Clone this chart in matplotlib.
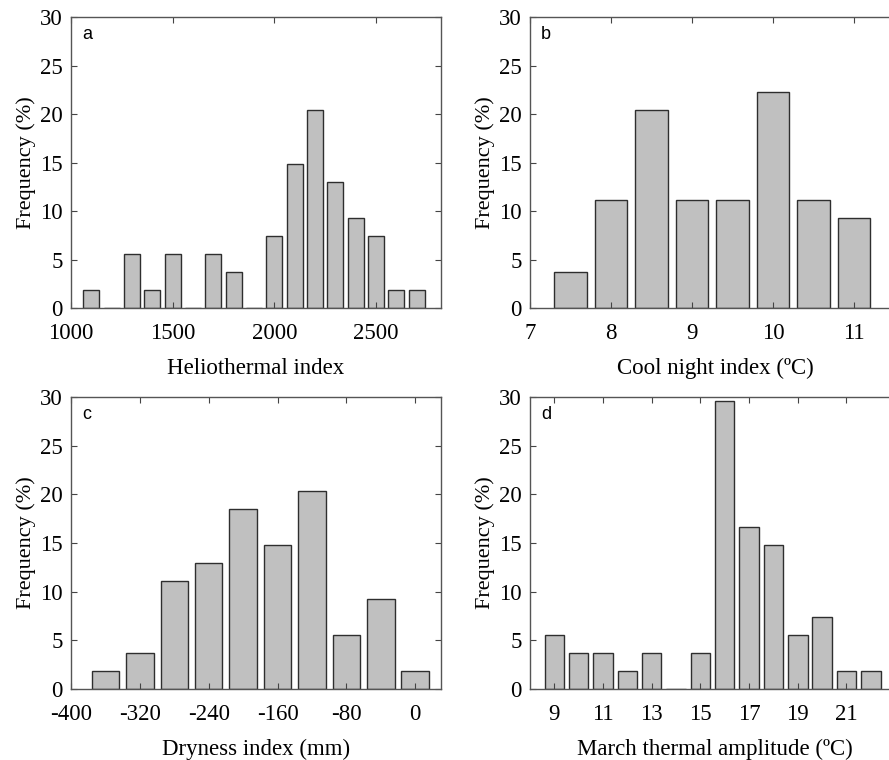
import matplotlib
matplotlib.use("Agg")
import matplotlib.pyplot as plt

plt.rcParams['font.family'] = ['Liberation Serif', 'DejaVu Serif']
plt.rcParams['axes.unicode_minus'] = False

# bin centres and frequencies (%)
helio_bins = [1100, 1200, 1300, 1400, 1500, 1600, 1700, 1800, 1900,
              2000, 2100, 2200, 2300, 2400, 2500, 2600, 2700]
helio_freq = [1.85, 0, 5.56, 1.85, 5.56, 0, 5.56, 3.70, 0,
              7.41, 14.81, 20.37, 12.96, 9.26, 7.41, 1.85, 1.85]

cool_bins = [7.5, 8.0, 8.5, 9.0, 9.5, 10.0, 10.5, 11.0]
cool_freq = [3.70, 11.11, 20.37, 11.11, 11.11, 22.22, 11.11, 9.26]

dry_bins = [-360, -320, -280, -240, -200, -160, -120, -80, -40, 0]
dry_freq = [1.85, 3.70, 11.11, 12.96, 18.52, 14.81, 20.37, 5.56, 9.26, 1.85]

march_bins = [9, 10, 11, 12, 13, 14, 15, 16, 17, 18, 19, 20, 21, 22]
march_freq = [5.56, 3.70, 3.70, 1.85, 3.70, 0, 3.70, 29.63, 16.67, 14.81,
              5.56, 7.41, 1.85, 1.85]

panels = [
    ("a", helio_bins, helio_freq, 100, (1000, 2820), [1000, 1500, 2000, 2500],
     "Heliothermal index", [0.0799, 0.5947, 0.4162, 0.3829]),
    ("b", cool_bins, cool_freq, 0.5, (7, 11.57), [7, 8, 9, 10, 11],
     "Cool night index (ºC)", [0.5962, 0.5947, 0.4162, 0.3829]),
    ("c", dry_bins, dry_freq, 40, (-400, 30), [-400, -320, -240, -160, -80, 0],
     "Dryness index (mm)", [0.0799, 0.0934, 0.4162, 0.3842]),
    ("d", march_bins, march_freq, 1, (8, 23.2), [9, 11, 13, 15, 17, 19, 21],
     "March thermal amplitude (ºC)", [0.5962, 0.0934, 0.4162, 0.3842]),
]

fig = plt.figure(figsize=(8.89, 7.6), dpi=100)

for letter, bins, freq, step, xlim, xticks, xlabel, pos in panels:
    ax = fig.add_axes(pos)
    ax.bar(bins, freq, width=0.8 * step, color='#c0c0c0',
           edgecolor='#2e2e2e', linewidth=1.0)
    ax.set_xlim(*xlim)
    ax.set_ylim(0, 30)
    ax.set_yticks(range(0, 31, 5))
    ax.set_xticks(xticks)
    ax.tick_params(direction='in', top=True, right=True, length=4,
                   width=0.8, color='#444444', labelsize=16.5)
    ax.tick_params(axis='x', pad=11)
    ax.tick_params(axis='y', pad=6)
    for s in ax.spines.values():
        s.set_color('#555555')
        s.set_linewidth(1.0)
    ax.set_xlabel(xlabel, fontsize=16.5, labelpad=10)
    ax.set_ylabel("Frequency (%)", fontsize=16, labelpad=3)
    ax.text(0.03, 0.925, letter, transform=ax.transAxes, ha='left',
            va='baseline', fontsize=13,
            family=['Liberation Sans', 'DejaVu Sans'])

fig.savefig("out.png", dpi=100)
